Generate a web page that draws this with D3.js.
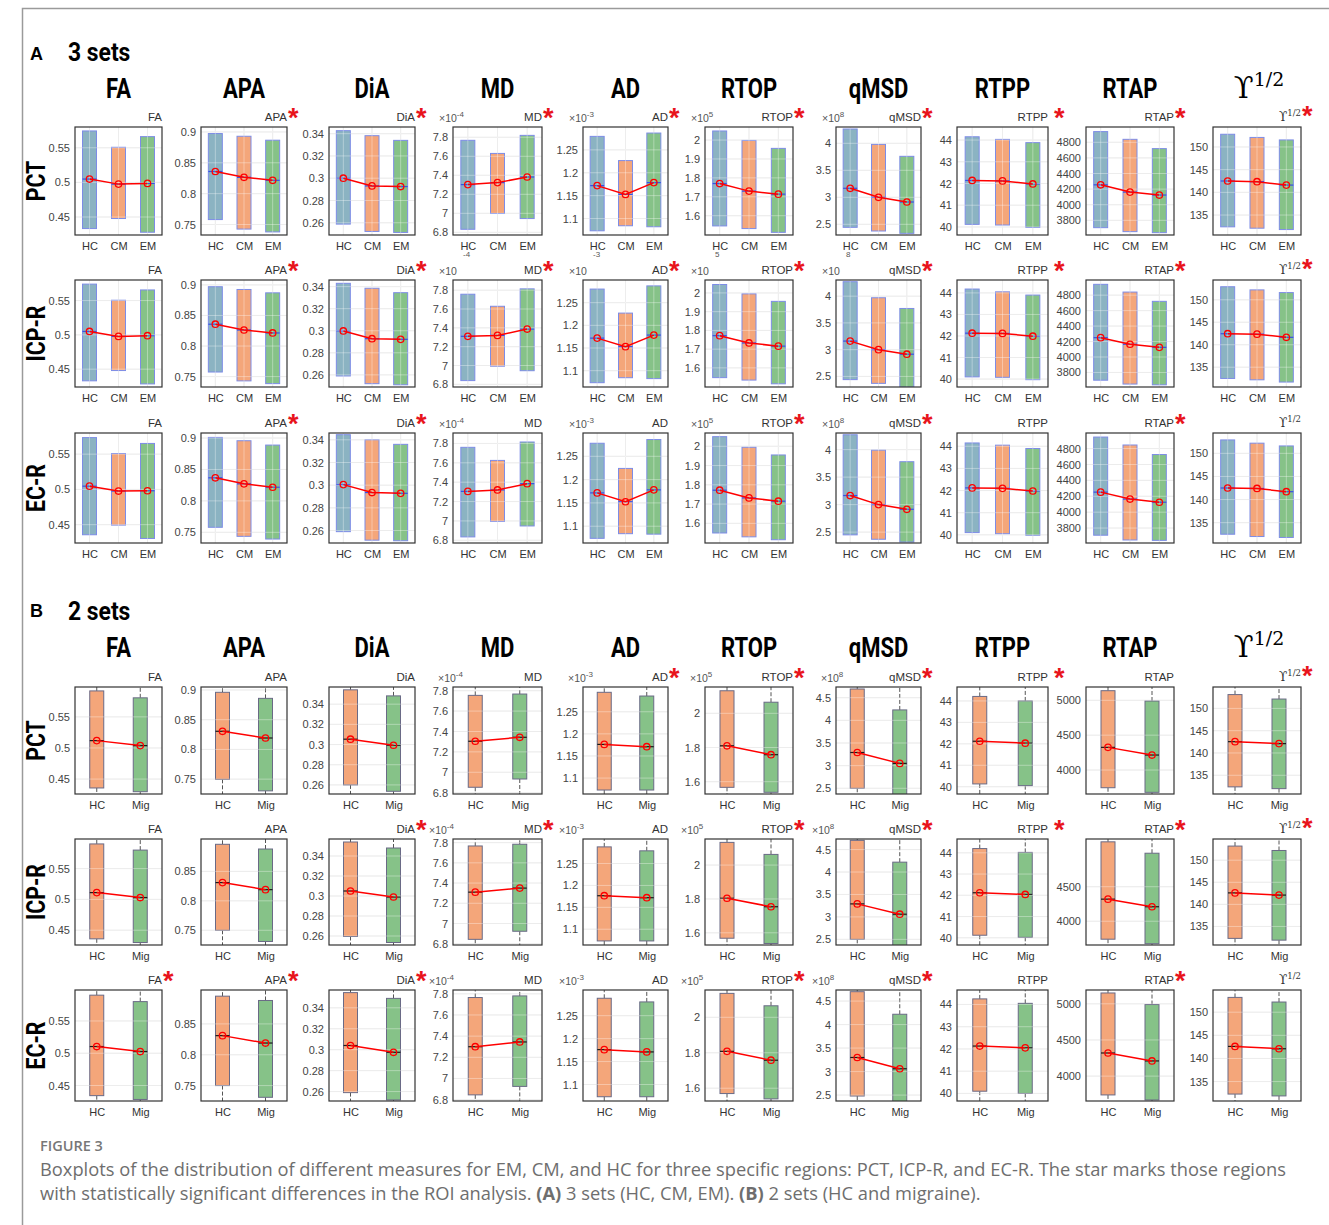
<!DOCTYPE html>
<html><head><meta charset="utf-8">
<script src="https://cdn.jsdelivr.net/npm/d3@7"></script>
<style>body{margin:0;background:#fff}</style>
</head><body>
<svg id="c" width="1329" height="1225"></svg>
<script>
// ---------------- DATA ----------------
const measures = ["FA","APA","DiA","MD","AD","RTOP","qMSD","RTPP","RTAP","Y"];
const regions = ["PCT","ICP-R","EC-R"];
const groupsA = ["HC","CM","EM"];
const groupsB = ["HC","Mig"];
const exponents = [0,0,0,-4,-3,5,8,0,0,0];

// y domains and tick labels, section A (3 sets)
const domainA = [[0.424,0.580],[0.733,0.908],[0.249,0.346],[6.772,7.908],[1.064,1.300],[1.498,2.069],[2.302,4.302],[39.63,44.60],[3612,4996],[130.6,154.4]];
const ticksA = [[0.45,0.5,0.55],[0.75,0.8,0.85,0.9],[0.26,0.28,0.3,0.32,0.34],[6.8,7,7.2,7.4,7.6,7.8],[1.1,1.15,1.2,1.25],[1.6,1.7,1.8,1.9,2],[2.5,3,3.5,4],[40,41,42,43,44],[3800,4000,4200,4400,4600,4800],[135,140,145,150]];
// section B (2 sets)
const domainB = [[0.426,0.598],[0.725,0.905],[0.251,0.357],[6.787,7.836],[1.064,1.306],[1.528,2.154],[2.374,4.736],[39.66,44.65],[3656,5191],[130.8,154.8]];
const ticksB_PCT = [[0.45,0.5,0.55],[0.75,0.8,0.85,0.9],[0.26,0.28,0.3,0.32,0.34],[6.8,7,7.2,7.4,7.6,7.8],[1.1,1.15,1.2,1.25],[1.6,1.8,2],[2.5,3,3.5,4,4.5],[40,41,42,43,44],[4000,4500,5000],[135,140,145,150]];
const ticksB_ICP = [[0.45,0.5,0.55],[0.75,0.8,0.85],[0.26,0.28,0.3,0.32,0.34],[6.8,7,7.2,7.4,7.6,7.8],[1.1,1.15,1.2,1.25],[1.6,1.8,2],[2.5,3,3.5,4,4.5],[40,41,42,43,44],[4000,4500],[135,140,145,150]];
const ticksB_EC = [[0.45,0.5,0.55],[0.75,0.8,0.85],[0.26,0.28,0.3,0.32,0.34],[6.8,7,7.2,7.4,7.6,7.8],[1.1,1.15,1.2,1.25],[1.6,1.8,2],[2.5,3,3.5,4,4.5],[40,41,42,43,44],[4000,4500,5000],[135,140,145,150]];

// A, PCT  (per measure: HC, CM, EM)
const A_PCT_low  = [[0.4333,0.4478,0.4280],[0.7580,0.7426,0.7380],[0.2588,0.2522,0.2513],[6.832,6.998,6.945],[1.0732,1.0842,1.0820],[1.546,1.532,1.512],[2.444,2.376,2.333],[40.12,40.09,39.98],[3706,3655,3642],[132.4,132.1,131.8]];
const A_PCT_high = [[0.5743,0.5507,0.5661],[0.8974,0.8930,0.8866],[0.3427,0.3382,0.3340],[7.768,7.630,7.820],[1.2795,1.2266,1.2868],[2.048,1.998,1.956],[4.265,3.980,3.759],[44.15,44.03,43.88],[4937,4838,4719],[152.8,152.1,151.55]];
const A_PCT_mean = [[0.5048,0.4975,0.4985],[0.8359,0.8265,0.8216],[0.3000,0.2931,0.2925],[7.302,7.323,7.382],[1.1719,1.1527,1.1785],[1.770,1.730,1.714],[3.167,3.000,2.913],[42.14,42.12,41.98],[4255,4162,4124],[142.5,142.35,141.6]];
// A, ICP-R
const A_ICP_low  = [[0.4330,0.4480,0.4285],[0.7575,0.7430,0.7385],[0.2590,0.2520,0.2510],[6.840,6.993,6.945],[1.0735,1.0845,1.0825],[1.548,1.535,1.515],[2.440,2.370,2.300],[40.10,40.08,39.97],[3700,3650,3640],[132.5,132.2,131.7]];
const A_ICP_high = [[0.5740,0.5505,0.5655],[0.8970,0.8925,0.8870],[0.3430,0.3385,0.3345],[7.757,7.629,7.814],[1.2800,1.2270,1.2870],[2.045,1.995,1.955],[4.270,3.970,3.770],[44.18,44.05,43.90],[4940,4840,4720],[152.9,152.2,151.6]];
const A_ICP_mean = [[0.5050,0.4978,0.4988],[0.8357,0.8262,0.8214],[0.2998,0.2928,0.2922],[7.310,7.320,7.387],[1.1718,1.1530,1.1785],[1.772,1.733,1.716],[3.160,3.000,2.915],[42.13,42.12,41.99],[4250,4165,4125],[142.45,142.35,141.65]];
// A, EC-R
const A_EC_low  = [[0.4357,0.4494,0.4304],[0.7580,0.7436,0.7393],[0.2590,0.2515,0.2510],[6.835,6.995,6.948],[1.0740,1.0840,1.0830],[1.550,1.530,1.515],[2.450,2.370,2.320],[40.10,40.05,39.98],[3710,3650,3645],[132.5,132.0,131.8]];
const A_EC_high = [[0.5735,0.5508,0.5652],[0.9010,0.8957,0.8888],[0.3445,0.3400,0.3360],[7.760,7.625,7.815],[1.2780,1.2240,1.2860],[2.050,1.995,1.955],[4.270,3.990,3.780],[44.15,44.05,43.90],[4945,4845,4725],[152.9,152.2,151.6]];
const A_EC_mean = [[0.5046,0.4977,0.4981],[0.8367,0.8271,0.8217],[0.3005,0.2935,0.2928],[7.305,7.320,7.385],[1.1715,1.1525,1.1780],[1.772,1.732,1.715],[3.165,3.000,2.915],[42.12,42.10,41.98],[4252,4165,4125],[142.5,142.4,141.7]];

// B, PCT (per measure: HC, Mig)
const B_PCT_low  = [[0.4357,0.4297],[0.7497,0.7303],[0.2600,0.2537],[6.853,6.934],[1.0730,1.0730],[1.567,1.538],[2.500,2.300],[40.13,40.05],[3746,3680],[132.4,132.0]];
const B_PCT_high = [[0.5917,0.5806],[0.8961,0.8859],[0.3542,0.3482],[7.754,7.767],[1.2940,1.2856],[2.132,2.065],[4.692,4.230],[44.21,44.00],[5138,4990],[153.1,152.1]];
const B_PCT_mean = [[0.5118,0.5038],[0.8305,0.8192],[0.3053,0.2993],[7.304,7.343],[1.1762,1.1710],[1.810,1.758],[3.290,3.050],[42.12,42.03],[4325,4215],[142.54,142.1]];
// B, ICP-R
const B_ICP_low  = [[0.4360,0.4300],[0.7500,0.7310],[0.2595,0.2535],[6.843,6.923],[1.0733,1.0733],[1.568,1.537],[2.500,2.300],[40.12,40.02],[3740,3675],[132.3,131.9]];
const B_ICP_high = [[0.5900,0.5800],[0.8960,0.8880],[0.3540,0.3480],[7.767,7.784],[1.2880,1.2790],[2.134,2.063],[4.706,4.220],[44.20,44.02],[5150,4985],[153.2,152.2]];
const B_ICP_mean = [[0.5110,0.5030],[0.8310,0.8190],[0.3050,0.2990],[7.310,7.350],[1.1765,1.1720],[1.804,1.754],[3.290,3.060],[42.12,42.04],[4320,4210],[142.6,142.1]];
// B, EC-R
const B_EC_low  = [[0.4343,0.4284],[0.7500,0.7310],[0.2590,0.2520],[6.845,6.925],[1.0733,1.0733],[1.570,1.540],[2.480,2.300],[40.10,40.00],[3740,3670],[132.3,131.9]];
const B_EC_high = [[0.5900,0.5800],[0.8950,0.8880],[0.3545,0.3490],[7.765,7.780],[1.2880,1.2800],[2.135,2.065],[4.700,4.220],[44.25,44.05],[5150,4990],[153.2,152.2]];
const B_EC_mean = [[0.5104,0.5026],[0.8310,0.8190],[0.3040,0.2975],[7.300,7.345],[1.1760,1.1710],[1.808,1.758],[3.300,3.060],[42.13,42.05],[4320,4210],[142.6,142.1]];

// significance stars (1 = star) per region row
const starsA = [[0,1,1,1,1,1,1,1,1,1],[0,1,1,1,1,1,1,1,1,1],[0,1,1,0,0,1,1,0,1,0]];
const starsB = [[0,0,0,0,1,1,1,1,0,1],[0,0,1,1,0,1,1,1,1,1],[1,1,1,0,0,1,1,0,1,0]];

// ---------------- LAYOUT ----------------
const svg = d3.select("#c");
const colLeft = [75,201,329,453,583,705,836,957,1086,1213];
const colW = [87,86,86,89,85,88,85,91,88,88];
const rowTopA = [127,280,433], rowHA = [108,107,110];
const rowTopB = [687,839,990], rowHB = [107,106,111];
const fillsA = ["#8bb3c2","#f4a67a","#86c288"];
const fillsB = ["#f4a67a","#86c288"];
const sansFont = "'Liberation Sans', Arial, sans-serif";
const boldFont = "Roboto, 'Liberation Sans', sans-serif";

svg.append("rect").attr("width",1329).attr("height",1225).attr("fill","#fff");
svg.append("path").attr("d","M22.5,1225 V8.5 H1329").attr("fill","none").attr("stroke","#9a9a9a").attr("stroke-width",1.5);

function boldText(x,y,txt,size,anchor,rot,sx){
  return svg.append("text")
    .attr("transform",`translate(${x},${y})${rot?" rotate(-90)":""} scale(${sx||0.8},1)`)
    .attr("text-anchor",anchor).attr("font-family",boldFont).attr("font-weight",700)
    .attr("font-size",size).attr("fill","#000").text(txt);
}
function upsTitle(cx,y){
  const t = svg.append("text").attr("x",cx).attr("y",y).attr("text-anchor","middle")
    .attr("font-family","'DejaVu Serif', 'Liberation Serif', serif").attr("font-size",29).attr("fill","#000");
  t.append("tspan").text("\u03D2");
  t.append("tspan").attr("dy",-12).attr("font-size",19).text("1/2");
}

let clipN = 0;
function drawPanel(p){
  const g = svg.append("g");
  const x = d3.scalePoint().domain(p.groups).range([p.x0,p.x0+p.w]).padding(0.5);
  const y = d3.scaleLinear().domain(p.dom).range([p.y0+p.h,p.y0]);
  const id = "clip"+(clipN++);
  g.append("clipPath").attr("id",id).append("rect").attr("x",p.x0).attr("y",p.y0).attr("width",p.w).attr("height",p.h);
  const inner = g.append("g").attr("clip-path",`url(#${id})`);
  const grid = (sel,color,op)=>{
    p.ticks.forEach(t=>sel.append("line").attr("x1",p.x0).attr("x2",p.x0+p.w).attr("y1",y(t)).attr("y2",y(t))
      .attr("stroke",color).attr("stroke-opacity",op).attr("stroke-width",1));
    if(!p.two) p.groups.forEach(gr=>sel.append("line").attr("x1",x(gr)).attr("x2",x(gr)).attr("y1",p.y0).attr("y2",p.y0+p.h)
      .attr("stroke",color).attr("stroke-opacity",op).attr("stroke-width",1));
  };
  grid(inner,"#e3e3e3",1);
  const bw = 14;
  p.groups.forEach((gr,i)=>{
    if(p.two){
      inner.append("line").attr("x1",x(gr)).attr("x2",x(gr)).attr("y1",y(p.high[i])).attr("y2",y.range()[1]-5)
        .attr("stroke","#555").attr("stroke-dasharray","4,2").attr("stroke-width",1);
      inner.append("line").attr("x1",x(gr)).attr("x2",x(gr)).attr("y1",y(p.low[i])).attr("y2",y.range()[0]+5)
        .attr("stroke","#555").attr("stroke-dasharray","4,2").attr("stroke-width",1);
    }
    inner.append("rect").attr("x",x(gr)-bw/2).attr("y",y(p.high[i])).attr("width",bw).attr("height",y(p.low[i])-y(p.high[i]))
      .attr("fill",p.fills[i]).attr("stroke",p.two?"#6a6a86":"#7d8ce6").attr("stroke-width",1);
    inner.append("line").attr("x1",x(gr)-bw/2).attr("x2",x(gr)+bw/2).attr("y1",y(p.mean[i])).attr("y2",y(p.mean[i]))
      .attr("stroke",p.two?"#1a1a1a":"#3352e6").attr("stroke-width",1.2);
  });
  grid(inner,"#ffffff",0.35);
  const pts = p.groups.map((gr,i)=>[x(gr),y(p.mean[i])]);
  inner.append("path").attr("d",d3.line()(pts)).attr("fill","none").attr("stroke","#ff0000").attr("stroke-width",1.5);
  pts.forEach(q=>inner.append("circle").attr("cx",q[0]).attr("cy",q[1]).attr("r",3.2).attr("fill","none").attr("stroke","#ff0000").attr("stroke-width",1.3));
  g.append("rect").attr("x",p.x0).attr("y",p.y0).attr("width",p.w).attr("height",p.h).attr("fill","none").attr("stroke","#333").attr("stroke-width",1.2);
  const ya = g.append("g").attr("transform",`translate(${p.x0},0)`)
    .call(d3.axisLeft(y).tickValues(p.ticks).tickSize(0).tickPadding(5).tickFormat(d=>String(d)));
  ya.select(".domain").remove();
  ya.selectAll("text").attr("font-family",sansFont).attr("font-size",11).attr("fill","#444");
  const xa = g.append("g").attr("transform",`translate(0,${p.y0+p.h})`)
    .call(d3.axisBottom(x).tickSize(0).tickPadding(7));
  xa.select(".domain").remove();
  xa.selectAll("text").attr("font-family",sansFont).attr("font-size",11).attr("fill","#333");
  const tt = g.append("text").attr("x",p.x0+p.w).attr("y",p.y0-6).attr("text-anchor","end")
    .attr("font-family",sansFont).attr("font-size",11.5).attr("fill","#333");
  if(p.name==="Y"){
    tt.attr("font-family","'DejaVu Serif', serif").attr("font-size",12);
    tt.append("tspan").text("\u03D2");
    tt.append("tspan").attr("dy",-5).attr("font-size",8.5).text("1/2");
  } else tt.text(p.name);
  if(p.star){
    g.append("text").attr("x",p.x0+p.w+(p.name==="RTPP"?6:1)).attr("y",p.y0+(p.name==="Y"?-2:0)).attr("font-family",sansFont)
      .attr("font-weight",700).attr("font-size",27).attr("fill","#e8141c").text("*");
  }
  if(p.exp){
    const ex = g.append("text").attr("x",p.x0+p.expDx).attr("y",p.y0-5).attr("font-family",sansFont).attr("font-size",10.5).attr("fill","#555");
    ex.append("tspan").text("\u00D710");
    if(p.expMode==="raised"){
      // exponent misplaced high above the plot (as in the reference)
      g.append("text").attr("x",p.x0+10).attr("y",p.y0-23).attr("font-family",sansFont).attr("font-size",8).attr("fill","#555").text(p.exp);
    } else {
      ex.append("tspan").attr("dy",-5).attr("font-size",8).text(p.exp);
    }
  }
}

// ---------------- HEADINGS ----------------
svg.append("text").attr("x",30).attr("y",60).attr("font-family",sansFont).attr("font-weight",700).attr("font-size",18).text("A");
boldText(68,61,"3 sets",26,"start",false,0.88);
svg.append("text").attr("x",30).attr("y",617).attr("font-family",sansFont).attr("font-weight",700).attr("font-size",18).text("B");
boldText(68,620,"2 sets",26,"start",false,0.88);

const dataA = [[A_PCT_low,A_PCT_high,A_PCT_mean],[A_ICP_low,A_ICP_high,A_ICP_mean],[A_EC_low,A_EC_high,A_EC_mean]];
const dataB = [[B_PCT_low,B_PCT_high,B_PCT_mean],[B_ICP_low,B_ICP_high,B_ICP_mean],[B_EC_low,B_EC_high,B_EC_mean]];
const ticksB = [ticksB_PCT,ticksB_ICP,ticksB_EC];

[98,657].forEach(ty=>{
  measures.forEach((m,j)=>{
    const cx = colLeft[j]+colW[j]/2;
    if(m==="Y") upsTitle(cx+2,ty); else boldText(cx,ty,m,27.5,"middle",false,0.8);
  });
});

regions.forEach((r,i)=>{
  boldText(45,rowTopA[i]+rowHA[i]/2,r,26,"middle",true,0.82);
  boldText(45,rowTopB[i]+rowHB[i]/2,r,26,"middle",true,0.82);
  measures.forEach((m,j)=>{
    drawPanel({x0:colLeft[j],y0:rowTopA[i],w:colW[j],h:rowHA[i],groups:groupsA,fills:fillsA,
      low:dataA[i][0][j],high:dataA[i][1][j],mean:dataA[i][2][j],dom:domainA[j],ticks:ticksA[j],
      name:m,star:starsA[i][j],exp:exponents[j],expDx:-14,expMode:i===1?"raised":"normal",two:false});
    drawPanel({x0:colLeft[j],y0:rowTopB[i],w:colW[j],h:rowHB[i],groups:groupsB,fills:fillsB,
      low:dataB[i][0][j],high:dataB[i][1][j],mean:dataB[i][2][j],dom:domainB[j],ticks:ticksB[i][j],
      name:m,star:starsB[i][j],exp:exponents[j],expDx:i===0?-15:-24,expMode:"normal",two:true});
  });
});

// ---------------- CAPTION ----------------
const capFont = "'Open Sans', 'Noto Sans', sans-serif";
svg.append("text").attr("x",40).attr("y",1151).attr("font-family",capFont).attr("font-weight",600).attr("font-size",14.5).attr("fill","#777").text("FIGURE 3");
svg.append("text").attr("x",40).attr("y",1176).attr("font-family",capFont).attr("font-size",18.3).attr("fill","#6e6e6e")
  .text("Boxplots of the distribution of different measures for EM, CM, and HC for three specific regions: PCT, ICP-R, and EC-R. The star marks those regions");
const l2 = svg.append("text").attr("x",40).attr("y",1200).attr("font-family",capFont).attr("font-size",18.3).attr("fill","#6e6e6e");
l2.append("tspan").text("with statistically significant differences in the ROI analysis. ");
l2.append("tspan").attr("font-weight",700).text("(A)");
l2.append("tspan").text(" 3 sets (HC, CM, EM). ");
l2.append("tspan").attr("font-weight",700).text("(B)");
l2.append("tspan").text(" 2 sets (HC and migraine).");
</script>
</body></html>
